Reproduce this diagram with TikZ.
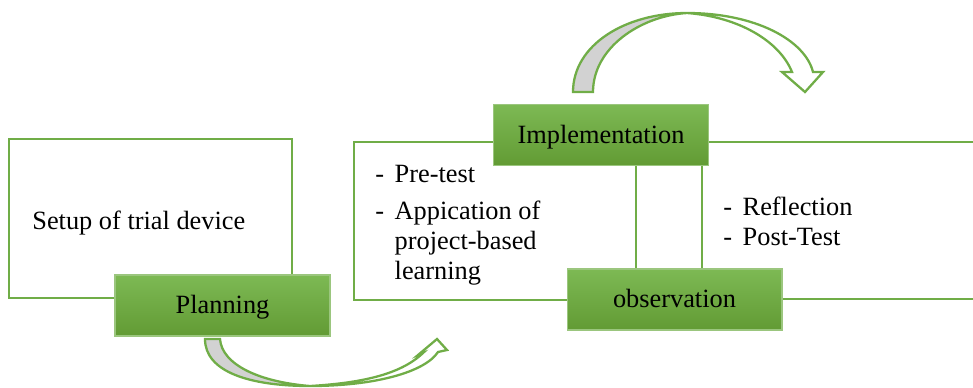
\documentclass[tikz,border=0pt]{standalone}
\usepackage{fontspec}
\setmainfont{Liberation Serif}

\definecolor{leaf}{RGB}{112,173,71}
\definecolor{leaftop}{RGB}{125,185,84}
\definecolor{leafbot}{RGB}{98,155,52}
\definecolor{shade}{RGB}{210,210,210}

\newcommand{\dashitem}{\makebox[11pt][l]{-}}

\tikzset{
  frame/.style={draw=leaf, line width=1.3pt},
  stage/.style={draw=leaf!70!white, line width=0.6pt, top color=leaftop, bottom color=leafbot,
    minimum width=4.3cm, minimum height=1.22cm, inner sep=0pt, text height=12pt, text depth=2.5pt},
  turnarrow/.style={draw=leaf, line width=1.3pt, line join=miter},
}

\begin{document}
\begin{tikzpicture}[x=0.02cm, y=-0.02cm, font=\fontsize{15}{17}\selectfont]

    \clip (0,0) rectangle (973,387);

    % the frames behind the stages
    \draw[frame] (9,139) rectangle (292,298);
    \draw[frame] (354,142) rectangle (636,300);
    \draw[frame] (702,142) rectangle (990,299);

    % what is done in each frame
    \node[anchor=base west, inner sep=0pt] (setup) at (32,229) {Setup of trial device};
    \node[anchor=north west, align=left, inner sep=0pt] (doing) at (375,165)
      {\dashitem Pre-test\\[4pt]
       \dashitem Appication of\\
       \hspace*{11pt}project-based\\
       \hspace*{11pt}learning};
    \node[anchor=north west, align=left, inner sep=0pt] (looking) at (723,197)
      {\dashitem Reflection\\
       \dashitem Post-Test};

    % the turn from implementation to observation
    \filldraw[turnarrow, fill=shade] (573,92) .. controls (573,45) and (625,13) .. (687,13)
      .. controls (640,16) and (593,48) .. (593,92) -- cycle;
    \filldraw[turnarrow, fill=white] (687,13) .. controls (755,13) and (805,40) .. (813,72)
      -- (823,72) -- (805,92) -- (782,72) -- (792,72)
      .. controls (780,42) and (740,17) .. (687,13) -- cycle;

    % the turn from planning to implementation
    \filldraw[turnarrow, fill=shade] (205,339) .. controls (205,372) and (250,386) .. (310,386)
      .. controls (260,382) and (222,365) .. (220,339) -- cycle;
    \filldraw[turnarrow, fill=white] (310,386) .. controls (375,386) and (425,372) .. (438,352)
      -- (447,350) -- (437,339) -- (418,355) -- (423,353)
      .. controls (400,375) and (360,383) .. (310,386) -- cycle;

    % the stages
    \node[stage] (plan) at (222.5,305.5) {Planning};
    \node[stage] (impl) at (601,135) {Implementation};
    \node[stage] (obs) at (674.5,299.5) {observation};
  \end{tikzpicture}
\end{document}
